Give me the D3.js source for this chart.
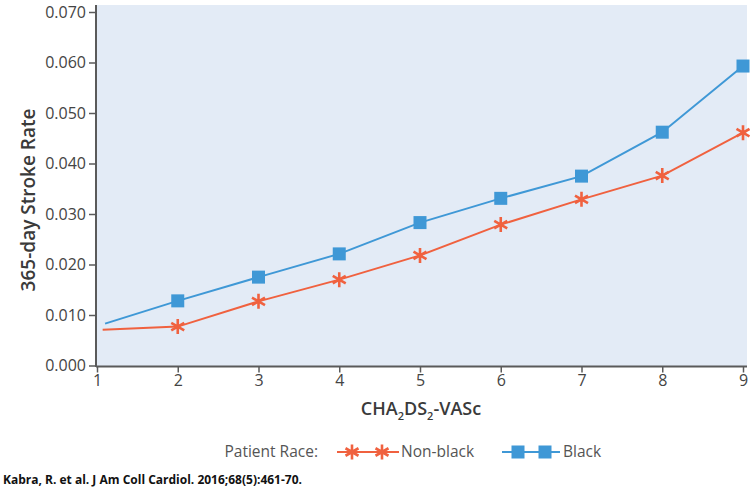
<!DOCTYPE html>
<html><head><meta charset="utf-8">
<script src="https://cdn.jsdelivr.net/npm/d3@7"></script>
<style>body{margin:0;background:#fff;} text{font-family:"Open Sans",sans-serif;}</style>
</head><body>
<svg id="c" width="750" height="489"></svg>
<script>
const xTicks = [1,2,3,4,5,6,7,8,9];
const yTicks = [0,0.01,0.02,0.03,0.04,0.05,0.06,0.07];
const xNonBlack = [1.07,2,3,4,5,6,7,8,9];
const nonBlack = [0.0071,0.0077,0.0127,0.0170,0.0218,0.0279,0.0329,0.0376,0.0461];
const nonBlackMarker = [false,true,true,true,true,true,true,true,true];
const xBlack = [1.1,2,3,4,5,6,7,8,9];
const black = [0.0083,0.0128,0.0175,0.0221,0.0283,0.0331,0.0375,0.0462,0.0593];
const blackMarker = [false,true,true,true,true,true,true,true,true];
const red = "#f0613f", blue = "#3f98d6";

const svg = d3.select("#c");
const x = d3.scaleLinear().domain([1,9]).range([97,743]);
const y = d3.scaleLinear().domain([0,0.07]).range([365.5,12]);

svg.append("rect").attr("x",97).attr("y",5).attr("width",650).attr("height",361)
  .attr("fill","#e3ebf6");

const ya = svg.append("g").attr("transform","translate(96,0)")
  .call(d3.axisLeft(y).tickValues(yTicks).tickFormat(d3.format(".3f")).tickSize(7).tickPadding(3));
const xa = svg.append("g").attr("transform","translate(0,366.5)")
  .call(d3.axisBottom(x).tickValues(xTicks).tickFormat(d3.format("d")).tickSize(6).tickPadding(2));
[ya,xa].forEach(a=>{
  a.select(".domain").attr("stroke","#5a5a5a").attr("stroke-width",2);
  a.selectAll(".tick line").attr("stroke","#5a5a5a").attr("stroke-width",1.5);
  a.selectAll(".tick text").attr("fill","#444").style("font-size","16px").style("font-family","'Open Sans',sans-serif");
});
ya.select(".domain").attr("d","M0,5V367");
xa.select(".domain").attr("d","M96,0H747");

const line = d3.line();
function series(xs, vals, marks, color, kind){
  const pts = vals.map((v,i)=>[x(xs[i]), y(v)]);
  svg.append("path").attr("d", line(pts)).attr("fill","none").attr("stroke",color).attr("stroke-width",2);
  const g = svg.append("g");
  pts.forEach((p,i)=>{
    if(!marks[i]) return;
    drawMarker(g, p[0], p[1], color, kind);
  });
}
function drawMarker(g, cx, cy, color, kind){
  if(kind==="sq"){
    g.append("rect").attr("x",cx-6.5).attr("y",cy-6.5).attr("width",13).attr("height",13).attr("fill",color);
  } else {
    const r = 7.5;
    let d = "";
    [90, 30, 150].forEach(a=>{
      const t = a*Math.PI/180, dx = r*Math.cos(t), dy = r*Math.sin(t);
      d += `M${cx-dx},${cy-dy}L${cx+dx},${cy+dy}`;
    });
    g.append("path").attr("d", d).attr("fill","none").attr("stroke",color).attr("stroke-width",2.6);
  }
}
series(xNonBlack, nonBlack, nonBlackMarker, red, "ast");
series(xBlack, black, blackMarker, blue, "sq");

// Y label
svg.append("text").attr("transform","translate(35,200) rotate(-90)").attr("text-anchor","middle")
  .attr("fill","#3a3a3a").style("font-size","19px").style("font-weight","600").text("365-day Stroke Rate");

// X label with subscripts
const xl = svg.append("text").attr("x",421).attr("y",415).attr("text-anchor","middle")
  .attr("fill","#3a3a3a").style("font-size","18px").style("font-weight","600");
xl.append("tspan").text("CHA");
xl.append("tspan").attr("dy",5).style("font-size","11px").text("2");
xl.append("tspan").attr("dy",-5).text("DS");
xl.append("tspan").attr("dy",5).style("font-size","11px").text("2");
xl.append("tspan").attr("dy",-5).text("-VASc");

// Legend
const ly = 452;
svg.append("text").attr("x",318).attr("y",ly+5).attr("text-anchor","end").attr("fill","#555")
  .style("font-size","15.5px").text("Patient Race:");
svg.append("line").attr("x1",337).attr("x2",399).attr("y1",ly).attr("y2",ly).attr("stroke",red).attr("stroke-width",2);
drawMarker(svg, 352, ly, red, "ast"); drawMarker(svg, 382, ly, red, "ast");
svg.append("text").attr("x",401).attr("y",ly+5).attr("fill","#555").style("font-size","15.5px").text("Non-black");
svg.append("line").attr("x1",502).attr("x2",560).attr("y1",ly).attr("y2",ly).attr("stroke",blue).attr("stroke-width",2);
drawMarker(svg, 518, ly, blue, "sq"); drawMarker(svg, 545, ly, blue, "sq");
svg.append("text").attr("x",563).attr("y",ly+5).attr("fill","#555").style("font-size","15.5px").text("Black");

// Caption
svg.append("text").attr("x",3).attr("y",484).attr("fill","#111").style("font-size","12px").style("font-weight","700")
  .text("Kabra, R. et al. J Am Coll Cardiol. 2016;68(5):461-70.");
</script>
</body></html>
